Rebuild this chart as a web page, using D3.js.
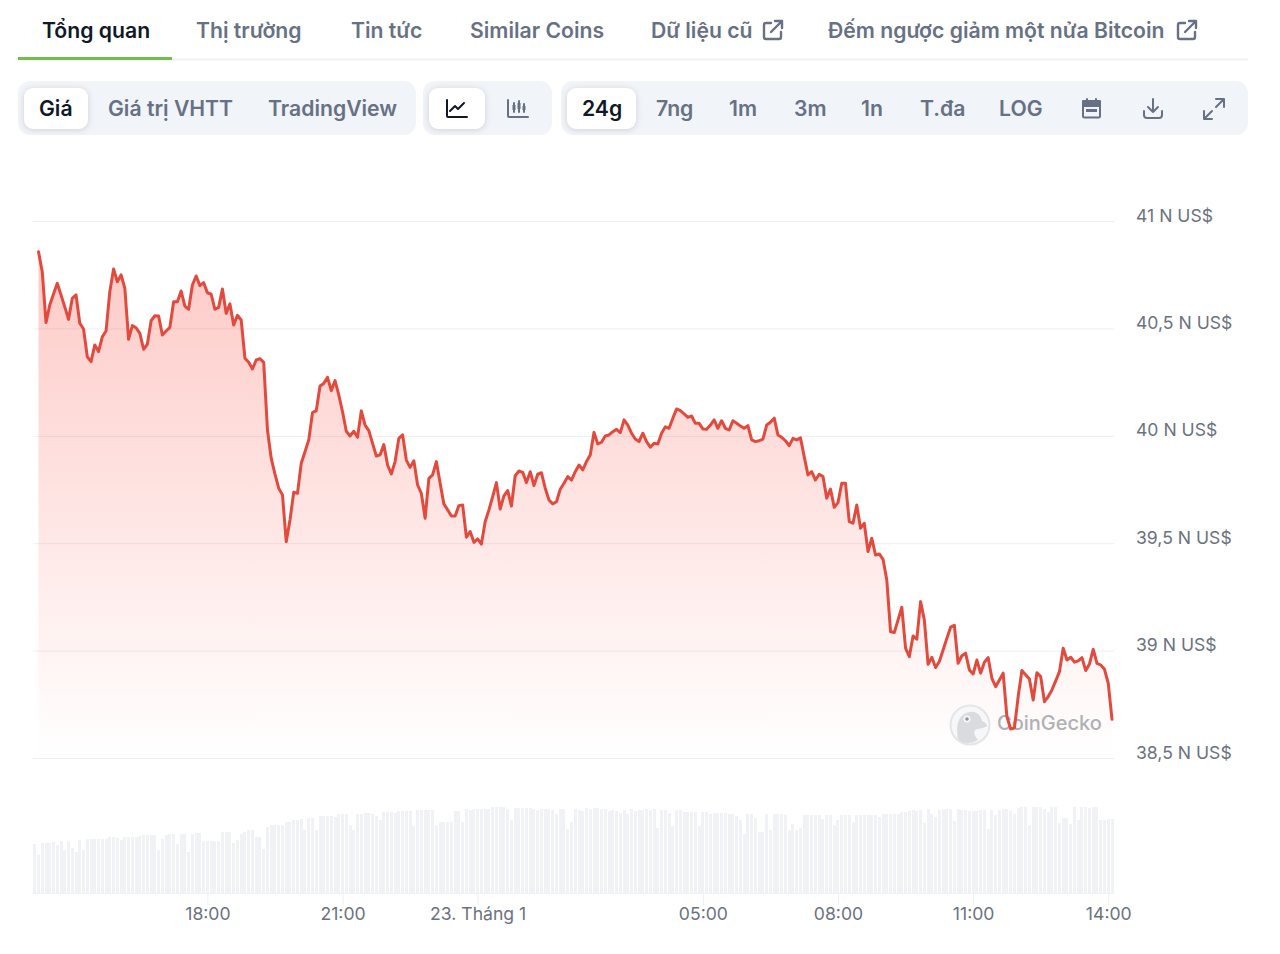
<!DOCTYPE html>
<html>
<head>
<meta charset="utf-8">
<script src="https://cdn.jsdelivr.net/npm/d3@7"></script>
<style>
  body { margin: 0; background: #fff; }
  svg { display: block; font-family: Inter, "Noto Sans", sans-serif; }
</style>
</head>
<body>
<div id="chart"></div>
<script>
// BTC price every 5 minutes (US$)
var prices = [
  40857, 40764, 40527, 40609, 40660, 40710, 40656, 40600, 40542, 40640,
  40656, 40524, 40497, 40368, 40345, 40423, 40392, 40461, 40488, 40671,
  40777, 40717, 40749, 40687, 40449, 40513, 40503, 40477, 40403, 40426,
  40536, 40559, 40558, 40469, 40488, 40505, 40624, 40624, 40674, 40604,
  40589, 40702, 40744, 40699, 40713, 40666, 40659, 40589, 40598, 40683,
  40570, 40614, 40516, 40561, 40539, 40361, 40342, 40311, 40353, 40359,
  40342, 40027, 39895, 39822, 39756, 39725, 39507, 39608, 39737, 39732,
  39872, 39926, 39981, 40108, 40117, 40232, 40244, 40272, 40210, 40257,
  40190, 40112, 40021, 39999, 40021, 39993, 40116, 40050, 40024, 39965,
  39906, 39911, 39959, 39864, 39822, 39880, 39988, 40005, 39887, 39853,
  39884, 39771, 39732, 39616, 39802, 39818, 39880, 39779, 39683, 39655,
  39627, 39627, 39675, 39678, 39528, 39554, 39504, 39520, 39496, 39600,
  39655, 39717, 39782, 39659, 39720, 39745, 39673, 39814, 39836, 39830,
  39782, 39833, 39768, 39821, 39828, 39756, 39701, 39683, 39693, 39751,
  39779, 39810, 39794, 39833, 39864, 39841, 39880, 39911, 40016, 39962,
  39970, 39999, 40004, 40019, 40030, 40015, 40074, 40050, 40012, 39985,
  39973, 40012, 39973, 39947, 39965, 39962, 40012, 40042, 40035, 40082,
  40125, 40117, 40102, 40086, 40092, 40058, 40058, 40032, 40030, 40050,
  40074, 40035, 40070, 40035, 40027, 40070, 40058, 40046, 40035, 40047,
  39981, 39973, 39977, 39985, 40050, 40063, 40082, 40004, 39993, 39977,
  39954, 39988, 39981, 39991, 39903, 39818, 39833, 39794, 39821, 39810,
  39709, 39752, 39667, 39689, 39779, 39779, 39600, 39593, 39678, 39570,
  39593, 39461, 39523, 39445, 39450, 39425, 39329, 39088, 39084, 39143,
  39202, 39011, 38972, 39068, 39053, 39228, 39143, 38936, 38969, 38921,
  38949, 39003, 39057, 39109, 39118, 38941, 38976, 38988, 38910, 38891,
  38956, 38895, 38946, 38967, 38871, 38832, 38863, 38895, 38693, 38635,
  38639, 38786, 38907, 38887, 38868, 38770, 38897, 38879, 38762, 38786,
  38817, 38859, 38902, 39011, 38956, 38969, 38946, 38952, 38967, 38907,
  38938, 39006, 38941, 38933, 38913, 38848, 38680
];
// volume bars, no axis on the picture so the unit is arbitrary
var volumes = [
  49, 38, 50, 50, 50, 51, 48, 52, 43, 52, 45, 41, 53, 43, 54, 54, 54, 54, 54, 54,
  56, 56, 55, 53, 56, 56, 56, 56, 57, 58, 58, 58, 58, 43, 54, 58, 59, 59, 49, 59,
  59, 41, 59, 60, 60, 52, 52, 52, 52, 52, 61, 61, 61, 50, 53, 59, 61, 63, 63, 56,
  56, 44, 66, 68, 68, 68, 68, 71, 71, 73, 73, 74, 63, 75, 75, 63, 77, 77, 77, 77,
  76, 79, 79, 79, 68, 63, 79, 79, 80, 80, 79, 77, 73, 81, 81, 81, 80, 82, 82, 82,
  82, 67, 83, 83, 83, 83, 83, 68, 71, 71, 71, 71, 82, 82, 71, 84, 83, 84, 84, 84,
  84, 84, 86, 86, 86, 86, 84, 73, 85, 85, 85, 85, 85, 84, 83, 84, 84, 84, 83, 79,
  84, 84, 64, 71, 84, 83, 82, 85, 84, 85, 85, 84, 84, 82, 83, 82, 80, 83, 79, 84,
  82, 83, 83, 84, 83, 84, 65, 83, 83, 80, 67, 83, 83, 81, 81, 81, 81, 67, 81, 81,
  79, 80, 80, 80, 80, 79, 79, 77, 73, 59, 79, 79, 75, 61, 61, 79, 63, 79, 79, 79,
  78, 63, 69, 63, 65, 78, 78, 78, 78, 78, 74, 78, 78, 68, 73, 78, 78, 78, 71, 78,
  78, 78, 78, 78, 78, 76, 79, 79, 79, 79, 79, 81, 81, 82, 83, 82, 83, 70, 84, 79,
  76, 83, 84, 84, 84, 72, 84, 83, 83, 82, 82, 82, 83, 83, 64, 83, 78, 83, 84, 84,
  82, 79, 85, 86, 86, 68, 86, 86, 86, 84, 81, 86, 86, 70, 75, 75, 69, 86, 73, 86,
  86, 85, 86, 86, 73, 73, 74, 74
];
var priceTicks = [38500, 39000, 39500, 40000, 40500, 41000];
var timeTicks = [
  new Date(Date.UTC(2024, 0, 22, 18)), new Date(Date.UTC(2024, 0, 22, 21)),
  new Date(Date.UTC(2024, 0, 23, 0)), new Date(Date.UTC(2024, 0, 23, 5)),
  new Date(Date.UTC(2024, 0, 23, 8)), new Date(Date.UTC(2024, 0, 23, 11)),
  new Date(Date.UTC(2024, 0, 23, 14))
];
var timeLabels = ["18:00", "21:00", "23. Tháng 1", "05:00", "08:00", "11:00", "14:00"];
var tabs = ["Tổng quan", "Thị trường", "Tin tức", "Similar Coins", "Dữ liệu cũ", "Đếm ngược giảm một nửa Bitcoin"];
var tabStarts = [42, 196, 351, 470, 651, 828];
var viewButtons = ["Giá", "Giá trị VHTT", "TradingView"];
var viewStarts = [39, 108, 268];
var rangeButtons = ["24g", "7ng", "1m", "3m", "1n", "T.đa", "LOG"];
var rangeStarts = [582, 656, 729, 794, 861, 920, 999];

var width = 1280;
var height = 954;
var left = 33;
var right = 1114;
var inkDark = "#111827";
var inkGrey = "#677185";
var inkAxis = "#6b7280";
var lineRed = "#e34a3e";

var svg = d3.select("#chart")
  .append("svg")
  .attr("width", width)
  .attr("height", height);

// time axis shared by the price line and the volume bars
var priceStart = new Date(Date.UTC(2024, 0, 22, 14, 15));
var priceTimes = prices.map(function (d, i) { return d3.utcMinute.offset(priceStart, i * 5); });
var volumeTimes = volumes.map(function (d, i) { return d3.utcMinute.offset(priceStart, (i - 1) * 5); });

var x = d3.scaleUtc()
  .domain([priceStart, priceTimes[priceTimes.length - 1]])
  .range([38.5, 1112]);
var y = d3.scaleLinear().domain([38500, 41000]).range([758, 221]);
var yVolume = d3.scaleLinear().domain([0, 100]).range([893, 793]);

// ---- header tabs
svg.append("line")
  .attr("x1", 18).attr("x2", 1248).attr("y1", 59.5).attr("y2", 59.5)
  .attr("stroke", "#f0f1f3").attr("stroke-width", 2);
svg.append("rect")
  .attr("x", 18).attr("y", 57).attr("width", 154).attr("height", 3)
  .attr("fill", "#6fbf4b");
svg.selectAll(".tab")
  .data(tabs)
  .join("text")
  .attr("class", "tab")
  .attr("x", function (d, i) { return tabStarts[i]; })
  .attr("y", 38)
  .attr("font-size", 21.2)
  .attr("font-weight", 600)
  .attr("fill", function (d, i) { return i === 0 ? inkDark : inkGrey; })
  .text(function (d) { return d; });

function externalIcon(px) {
  var g = svg.append("g")
    .attr("transform", "translate(" + px + ",20)")
    .attr("fill", "none")
    .attr("stroke", inkGrey)
    .attr("stroke-width", 2.4)
    .attr("stroke-linecap", "round")
    .attr("stroke-linejoin", "round");
  g.append("path").attr("d", "M8 3H3a2 2 0 0 0-2 2v12a2 2 0 0 0 2 2h13a2 2 0 0 0 2-2v-5");
  g.append("path").attr("d", "M8 12L19 1M12 1h7v7");
}
externalIcon(763);
externalIcon(1177);

// ---- toolbar
var panels = [[18, 398], [423, 129], [561, 687]];
svg.selectAll(".panel")
  .data(panels)
  .join("rect")
  .attr("class", "panel")
  .attr("x", function (d) { return d[0]; })
  .attr("y", 81)
  .attr("width", function (d) { return d[1]; })
  .attr("height", 54)
  .attr("rx", 12)
  .attr("fill", "#f1f4f9");
var activeButtons = [[24, 64], [429, 56], [567, 69]];
svg.selectAll(".active")
  .data(activeButtons)
  .join("rect")
  .attr("class", "active")
  .attr("x", function (d) { return d[0]; })
  .attr("y", 88)
  .attr("width", function (d) { return d[1]; })
  .attr("height", 41)
  .attr("rx", 9)
  .attr("fill", "#fff")
  .style("filter", "drop-shadow(0 1px 3px rgba(16,24,40,.16))");

svg.selectAll(".view")
  .data(viewButtons)
  .join("text")
  .attr("class", "view")
  .attr("x", function (d, i) { return viewStarts[i]; })
  .attr("y", 116)
  .attr("font-size", 21.2)
  .attr("font-weight", 600)
  .attr("fill", function (d, i) { return i === 0 ? inkDark : inkGrey; })
  .text(function (d) { return d; });
svg.selectAll(".range")
  .data(rangeButtons)
  .join("text")
  .attr("class", "range")
  .attr("x", function (d, i) { return rangeStarts[i]; })
  .attr("y", 116)
  .attr("font-size", 21.2)
  .attr("font-weight", 600)
  .attr("fill", function (d, i) { return i === 0 ? inkDark : inkGrey; })
  .text(function (d) { return d; });

function icon(px, py, color, paths) {
  var g = svg.append("g")
    .attr("transform", "translate(" + px + "," + py + ")")
    .attr("fill", "none")
    .attr("stroke", color)
    .attr("stroke-width", 2)
    .attr("stroke-linecap", "round")
    .attr("stroke-linejoin", "round");
  paths.forEach(function (p) { g.append("path").attr("d", p); });
  return g;
}
icon(446, 99, inkDark, ["M1 1v16a1 1 0 0 0 1 1h19", "M4 12l5-5 3 3 6-6"]);
icon(507, 99, inkGrey, ["M1 1v16a1 1 0 0 0 1 1h19", "M7 4v9M12 2v11M17 5v8"])
  .append("path")
  .attr("d", "M5.5 6h3v5h-3zM10.5 4h3v6h-3zM15.5 7h3v4h-3z")
  .attr("fill", inkGrey)
  .attr("stroke", "none");
icon(1082, 98, inkGrey, ["M3 3h13a2 2 0 0 1 2 2v13a1.500 1.500 0 0 1-1.500 1.500H2.500A1.500 1.500 0 0 1 1 18V5a2 2 0 0 1 2-2z", "M5 1v3M14 1v3"])
  .append("rect")
  .attr("x", 1).attr("y", 3).attr("width", 17).attr("height", 5)
  .attr("fill", inkGrey);
svg.append("rect").attr("x", 1086).attr("y", 109).attr("width", 11).attr("height", 3).attr("fill", inkGrey);
icon(1143, 98, inkGrey, ["M1 13v4a3 3 0 0 0 3 3h12a3 3 0 0 0 3-3v-4", "M10 1v13M5 9l5 5 5-5"]);
icon(1203, 98, inkGrey, ["M13 1h8v8M21 1l-8 8", "M1 13v8h8M1 21l8-8"]);

// ---- chart
var defs = svg.append("defs");
var fade = defs.append("linearGradient")
  .attr("id", "fade")
  .attr("gradientUnits", "userSpaceOnUse")
  .attr("x1", 0).attr("x2", 0).attr("y1", 250).attr("y2", 758);
fade.append("stop").attr("offset", 0).attr("stop-color", "#f8483c").attr("stop-opacity", 0.29);
fade.append("stop").attr("offset", 1).attr("stop-color", "#f8483c").attr("stop-opacity", 0);

// price grid and labels, with decimal comma
var viFormat = d3.formatLocale({ decimal: ",", thousands: ".", grouping: [3], currency: ["", " US$"] }).format("~g");
var yAxis = d3.axisRight(y)
  .tickValues(priceTicks)
  .tickSize(right - left)
  .tickPadding(22)
  .tickFormat(function (d) { return viFormat(d / 1000) + " N US$"; });
var yAxisG = svg.append("g")
  .attr("transform", "translate(" + left + ",0)")
  .call(yAxis);
yAxisG.select(".domain").remove();
yAxisG.selectAll("line").attr("stroke", "#eceef1");
yAxisG.selectAll("text")
  .attr("dy", "0.0em")
  .attr("font-family", "Inter, sans-serif")
  .attr("font-size", 17.6)
  .attr("fill", inkAxis);

svg.selectAll(".volume")
  .data(volumes)
  .join("rect")
  .attr("class", "volume")
  .attr("x", function (d, i) { return Math.round(x(volumeTimes[i]) - 1.5); })
  .attr("y", function (d) { return yVolume(d); })
  .attr("width", 3)
  .attr("height", function (d) { return yVolume(0) - yVolume(d); })
  .attr("fill", "#f0f2f5");

var xAxis = d3.axisBottom(x)
  .tickValues(timeTicks)
  .tickSize(12)
  .tickPadding(3)
  .tickFormat(function (d, i) { return timeLabels[i]; });
var xAxisG = svg.append("g")
  .attr("transform", "translate(0,893)")
  .call(xAxis);
xAxisG.select(".domain").attr("stroke", "#f0f2f5").attr("d", "M" + left + ",0.5H" + right);
xAxisG.selectAll("line").attr("stroke", "#eef0f3");
xAxisG.selectAll("text")
  .attr("font-family", "Inter, sans-serif")
  .attr("font-size", 17.6)
  .attr("fill", inkAxis);

var area = d3.area()
  .x(function (d, i) { return x(priceTimes[i]); })
  .y0(y(38500))
  .y1(function (d) { return y(d); });
svg.append("path")
  .datum(prices)
  .attr("d", area)
  .attr("fill", "url(#fade)");

// watermark sits under the line
var mark = svg.append("g").attr("transform", "translate(970,725)");
mark.append("circle").attr("r", 19.5).attr("fill", "#f6f7f8").attr("stroke", "#e3e5e8").attr("stroke-width", 2);
mark.append("path")
  .attr("d", "M-12 14C-14 2-13-11 0-13C7-14 11-9 12-4C15-3 17-1 17 1C13 4 8 3 5 5C3 8 6 13 8 15C2 19-8 19-12 14Z")
  .attr("fill", "#d9dbde");
mark.append("circle").attr("cx", -3).attr("cy", -6).attr("r", 3.5).attr("fill", "#f6f7f8");
mark.append("circle").attr("cx", -3).attr("cy", -6).attr("r", 1.8).attr("fill", "#8f9399");
svg.append("text")
  .attr("x", 997)
  .attr("y", 730)
  .attr("font-family", "Inter, sans-serif")
  .attr("font-size", 20)
  .attr("font-weight", 500)
  .attr("fill", "#aeb1b6")
  .text("CoinGecko");

var line = d3.line()
  .x(function (d, i) { return x(priceTimes[i]); })
  .y(function (d) { return y(d); });
svg.append("path")
  .datum(prices)
  .attr("d", line)
  .attr("fill", "none")
  .attr("stroke", lineRed)
  .attr("stroke-width", 3)
  .attr("stroke-linejoin", "round")
  .attr("stroke-linecap", "round");
</script>
</body>
</html>
